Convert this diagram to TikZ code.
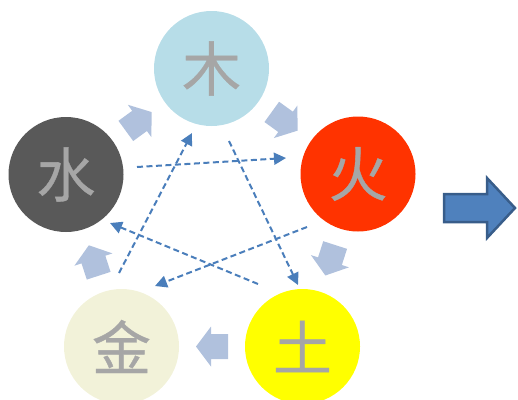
\documentclass[tikz,border=0pt]{standalone}
\usepackage{fontspec}
\newfontfamily\cjk[FakeBold=0.6]{Noto Sans CJK SC}
\usetikzlibrary{arrows.meta,calc}
\definecolor{cmu}{HTML}{B7DDE8}
\definecolor{chuo}{HTML}{FF3300}
\definecolor{ctu}{HTML}{FFFF00}
\definecolor{cjin}{HTML}{F2F2D9}
\definecolor{cshui}{HTML}{595959}
\definecolor{ctext}{HTML}{A6A6A6}
\definecolor{csmall}{HTML}{B0C1DD}
\definecolor{cdash}{HTML}{4A7EBB}
\definecolor{cbigfill}{HTML}{4F81BD}
\definecolor{cbigline}{HTML}{385D8A}
\tikzset{
  elem/.style={circle, minimum size=115pt, inner sep=0pt, draw=none, text=ctext, font=\cjk\fontsize{59pt}{59pt}\selectfont},
  smallarrow/.pic={\fill[csmall] (-16,-12.5) -- (1,-12.5) -- (1,-20) -- (16,0) -- (1,20) -- (1,12.5) -- (-16,12.5) -- cycle;},
  dasharrow/.style={draw=cdash, line width=2pt, dash pattern=on 6pt off 3.5pt, -{Triangle[length=12pt,width=12pt,fill=cdash]}}
}
\begin{document}
\begin{tikzpicture}[x=1pt,y=-1pt]
\useasboundingbox (0,0) rectangle (518,399);
\node[elem, fill=cmu] (mu) at (211.5,68.5) {木};
\node[elem, fill=chuo] (huo) at (358,174) {火};
\node[elem, fill=ctu] (tu) at (302.5,346.5) {土};
\node[elem, fill=cjin] (jin) at (121.5,346.5) {金};
\node[elem, fill=cshui] (shui) at (66,174.5) {水};
% small generating arrows
\pic[rotate=-35.8] at ($(mu)!0.5!(huo)$) {smallarrow};
\pic[rotate=-107.8] at ($(huo)!0.5!(tu)$) {smallarrow};
\pic[rotate=180] at ($(tu)!0.5!(jin)$) {smallarrow};
\pic[rotate=107.9] at ($(jin)!0.5!(shui)$) {smallarrow};
\pic[rotate=36.1] at ($(shui)!0.5!(mu)$) {smallarrow};
% restraint endpoints
\coordinate (s1) at (137,167); \coordinate (e1) at (286,158);
\coordinate (s2) at (229,141); \coordinate (e2) at (298,285);
\coordinate (s3) at (307,227); \coordinate (e3) at (155,286);
\coordinate (s4) at (258,284); \coordinate (e4) at (110,223);
\coordinate (s5) at (119,273); \coordinate (e5) at (192,133);
\draw[dasharrow] (s1) -- (e1);
\draw[dasharrow] (s2) -- (e2);
\draw[dasharrow] (s3) -- (e3);
\draw[dasharrow] (s4) -- (e4);
\draw[dasharrow] (s5) -- (e5);
% big arrow
\draw[fill=cbigfill, draw=cbigline, line width=2.5pt, line join=miter]
  (444,194) -- (487,194) -- (487,178) -- (515,208) -- (487,238) -- (487,222) -- (444,222) -- cycle;
\end{tikzpicture}
\end{document}
